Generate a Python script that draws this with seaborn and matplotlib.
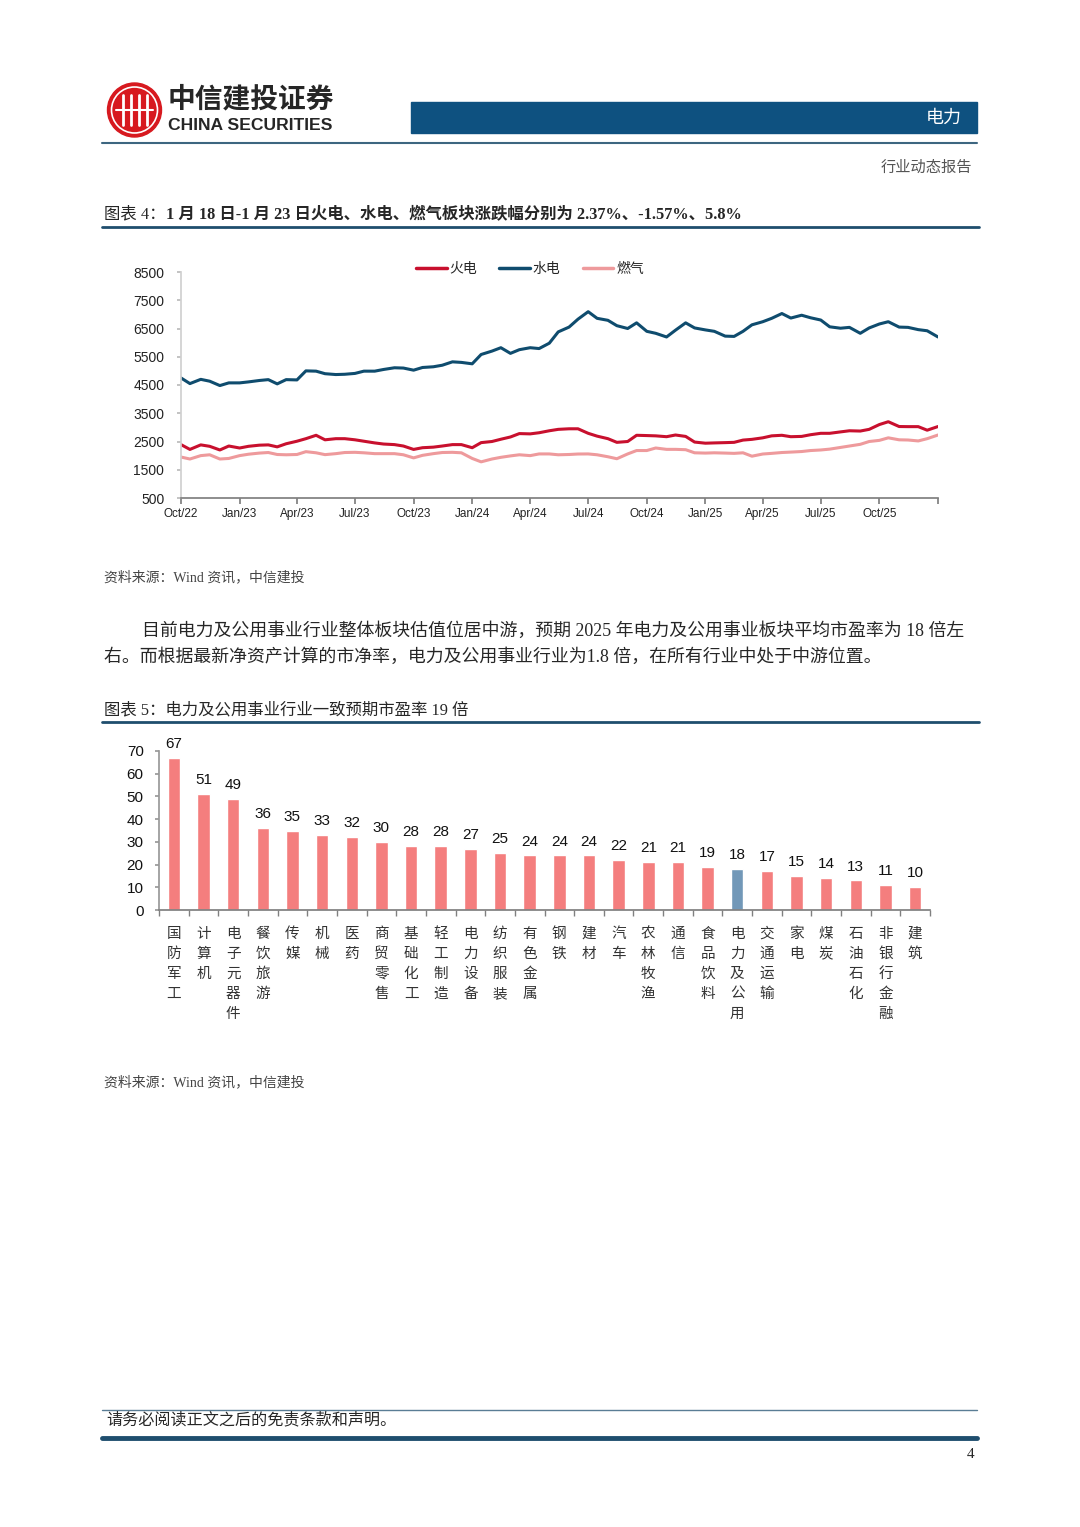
import numpy as np
import pandas as pd
import matplotlib
matplotlib.use("Agg")
import matplotlib.pyplot as plt
import matplotlib.patches as mpatches
import seaborn as sns

sns.set_theme(style="ticks")
SERIF = ["Liberation Serif", "Noto Sans CJK SC"]
SANS = ["Liberation Sans", "Noto Sans CJK SC"]
plt.rcParams["font.family"] = SANS
plt.rcParams["axes.unicode_minus"] = False

# 图表4: 火电 / 水电 / 燃气 板块指数
dates = pd.date_range("2022-10-01", "2026-01-01", freq="SMS")
thermal = [2390, 2220, 2380, 2330, 2200, 2340, 2270, 2330, 2370, 2380,
           2310, 2420, 2510, 2600, 2720, 2560, 2600, 2600, 2560, 2510,
           2450, 2410, 2390, 2340, 2220, 2280, 2300, 2340, 2390, 2390,
           2280, 2460, 2500, 2580, 2660, 2780, 2770, 2810, 2880, 2930,
           2950, 2950, 2790, 2690, 2600, 2470, 2500, 2720, 2710, 2700,
           2670, 2730, 2680, 2480, 2440, 2450, 2460, 2470, 2550, 2576,
           2630, 2700, 2720, 2670, 2680, 2740, 2790, 2790, 2840, 2880,
           2870, 2930, 3100, 3200, 3030, 3026, 3026, 2900, 3030]
hydro = [4750, 4550, 4700, 4635, 4480, 4575, 4575, 4610, 4660, 4690,
         4540, 4690, 4680, 5000, 4990, 4900, 4870, 4880, 4910, 4990,
         4990, 5050, 5110, 5100, 5025, 5120, 5145, 5200, 5320, 5300,
         5250, 5580, 5700, 5820, 5620, 5750, 5820, 5790, 5980, 6380,
         6550, 6830, 7095, 6860, 6790, 6600, 6500, 6700, 6400, 6330,
         6200, 6440, 6700, 6520, 6450, 6400, 6230, 6220, 6400, 6630,
         6740, 6860, 7030, 6870, 6970, 6880, 6800, 6560, 6510, 6540,
         6330, 6520, 6660, 6740, 6550, 6540, 6460, 6420, 6200]
gas = [1950, 1880, 2000, 2030, 1880, 1900, 2000, 2050, 2090, 2110,
       2040, 2030, 2040, 2140, 2100, 2035, 2070, 2110, 2117, 2100,
       2070, 2070, 2070, 2030, 1920, 2010, 2070, 2110, 2117, 2100,
       1900, 1780, 1880, 1940, 1990, 2030, 2000, 2060, 2060, 2030,
       2040, 2057, 2060, 2030, 1960, 1890, 2060, 2180, 2180, 2270,
       2222, 2222, 2210, 2100, 2090, 2100, 2090, 2080, 2100, 1980,
       2057, 2080, 2110, 2125, 2145, 2180, 2200, 2230, 2290, 2340,
       2400, 2500, 2540, 2630, 2560, 2553, 2520, 2600, 2730]
quarter_ticks = pd.date_range("2022-10-01", "2026-01-01", freq="QS-OCT")
quarter_labels = ["Oct/22", "Jan/23", "Apr/23", "Jul/23", "Oct/23", "Jan/24", "Apr/24",
                  "Jul/24", "Oct/24", "Jan/25", "Apr/25", "Jul/25", "Oct/25", ""]

# 图表5: 各行业一致预期市盈率
industries = ["国防军工", "计算机", "电子元器件", "餐饮旅游", "传媒", "机械", "医药",
              "商贸零售", "基础化工", "轻工制造", "电力设备", "纺织服装", "有色金属",
              "钢铁", "建材", "汽车", "农林牧渔", "通信", "食品饮料", "电力及公用",
              "交通运输", "家电", "煤炭", "石油石化", "非银行金融", "建筑"]
pe_vals = [67, 51, 49, 36, 35, 33, 32, 30, 28, 28, 27, 25, 24,
           24, 24, 22, 21, 21, 19, 18, 17, 15, 14, 13, 11, 10]
highlight = "电力及公用"

W, H = 1080, 1527


def rect(left, top, right, bottom):
    return [left / W, 1 - bottom / H, (right - left) / W, (bottom - top) / H]


fig = plt.figure(figsize=(W / 100, H / 100), dpi=100)
bg = fig.add_axes([0, 0, 1, 1])
bg.set_xlim(0, W)
bg.set_ylim(H, 0)
bg.axis("off")

# header
bg.add_patch(mpatches.Circle((134.5, 110), 27, color="#d7191f"))
bg.add_patch(mpatches.Circle((134.5, 110), 23, fill=False, ec="white", lw=1.2))
for dx in (-12, -4, 4, 12):
    bg.plot([134.5 + dx] * 2, [95, 125], color="white", lw=2)
bg.plot([116, 153], [110, 110], color="white", lw=1.5)
bg.text(168, 100, "中信建投证券", fontsize=20, fontweight="bold", family=SANS, va="center")
bg.text(168, 125, "CHINA SECURITIES", fontsize=12.6, fontweight="bold",
        family=["Liberation Sans"], va="center")
bg.add_patch(mpatches.Rectangle((411, 102), 566, 31, color="#0e5180"))
bg.text(962, 118, "电力", fontsize=13, color="white", ha="right", va="center")
bg.plot([102, 977], [143, 143], color="#3d6680", lw=1.5)
bg.text(972, 168, "行业动态报告", fontsize=11, color="#555555", ha="right", va="center",
        family=SERIF)

# title 4
renderer = fig.canvas.get_renderer()
t = bg.text(104, 214, "图表 4：", fontsize=11.8, va="center", family=SERIF)
w = t.get_window_extent(renderer).width
bg.text(104 + w, 214, "1 月 18 日-1 月 23 日火电、水电、燃气板块涨跌幅分别为 2.37%、-1.57%、5.8%",
        fontsize=11.8, fontweight="bold", va="center", family=SERIF)
bg.plot([102, 979], [227, 227], color="#1f4e6e", lw=2)

# line chart
ax1 = fig.add_axes(rect(181, 272, 938, 498))
ax1.patch.set_alpha(0)
line_df = pd.DataFrame({"date": dates, "火电": thermal, "水电": hydro, "燃气": gas})
line_long = line_df.melt(id_vars="date", var_name="板块", value_name="指数")
sns.lineplot(data=line_long, x="date", y="指数", hue="板块",
             palette={"火电": "#c8102e", "水电": "#0f4c6e", "燃气": "#ee9a9c"},
             linewidth=2.2, ax=ax1)
ax1.set_xlim(dates[0], dates[-1])
ax1.set_ylim(500, 8500)
ax1.set_yticks(range(500, 8501, 1000))
ax1.set_xticks(quarter_ticks)
ax1.set_xticklabels(quarter_labels)
ax1.set_xlabel("")
ax1.set_ylabel("")
for s in ("top", "right"):
    ax1.spines[s].set_visible(False)
ax1.spines["left"].set_color("#d0d0d0")
ax1.spines["bottom"].set_color("#808080")
ax1.tick_params(axis="y", length=3, color="#bbbbbb", pad=9, labelsize=10, labelcolor="#222222")
ax1.tick_params(axis="x", length=4, color="#808080", pad=3, labelsize=8.5, labelcolor="#222222")
sns.move_legend(ax1, "center", bbox_to_anchor=(0.461, 1.013), ncol=3, frameon=False,
                title=None, fontsize=10, handlelength=2.2, columnspacing=1.6,
                handletextpad=0.2)
for ln in ax1.get_legend().get_lines():
    ln.set_linewidth(2.5)

bg.text(104, 577, "资料来源：Wind 资讯，中信建投", fontsize=10, color="#444444",
        va="center", family=SERIF)

# body text
bg.text(142, 631, "目前电力及公用事业行业整体板块估值位居中游，预期 2025 年电力及公用事业板块平均市盈率为 18 倍左",
        fontsize=12.9, va="center", family=SERIF)
bg.text(104, 657, "右。而根据最新净资产计算的市净率，电力及公用事业行业为1.8 倍，在所有行业中处于中游位置。",
        fontsize=12.9, va="center", family=SERIF)

# title 5
bg.text(104, 710, "图表 5：电力及公用事业行业一致预期市盈率 19 倍", fontsize=11.8,
        va="center", family=SERIF)
bg.plot([102, 979], [722, 722], color="#1f4e6e", lw=2)

# bar chart
ax2 = fig.add_axes(rect(159, 751, 930, 910))
ax2.patch.set_alpha(0)
bar_colors = {c: ("#7298b8" if c == highlight else "#f47e7e") for c in industries}
sns.barplot(x=industries, y=pe_vals, hue=industries, palette=bar_colors, legend=False,
            width=0.42, saturation=1, ax=ax2)
for i, v in enumerate(pe_vals):
    ax2.annotate(f"{v}", (i, v), xytext=(0, 5), textcoords="offset points",
                 ha="center", va="bottom", fontsize=11, color="#111111")
ax2.set_xlim(-0.5, len(industries) - 0.5)
ax2.set_ylim(0, 70)
ax2.set_yticks(range(0, 71, 10))
ax2.set_xticks(range(len(industries)))
ax2.set_xticklabels(["\n".join(c) for c in industries], fontsize=10.5, linespacing=1.55,
                    va="top", color="#333333")
ax2.set_xticks(np.arange(-0.5, len(industries), 1), minor=True)
ax2.tick_params(axis="x", which="major", length=0, pad=12)
ax2.tick_params(axis="x", which="minor", length=4, color="#808080")
ax2.tick_params(axis="y", length=3, color="#999999", pad=8, labelsize=11, labelcolor="#111111")
ax2.set_xlabel("")
ax2.set_ylabel("")
for s in ("top", "right"):
    ax2.spines[s].set_visible(False)
ax2.spines["left"].set_color("#999999")
ax2.spines["bottom"].set_color("#808080")

bg.text(104, 1082, "资料来源：Wind 资讯，中信建投", fontsize=10, color="#444444",
        va="center", family=SERIF)

# footer
bg.plot([102, 977], [1410, 1410], color="#5a7d95", lw=1)
bg.text(106, 1420, "请务必阅读正文之后的免责条款和声明。", fontsize=11.6, va="center", family=SERIF)
bg.plot([102, 977], [1438, 1438], color="#1f4e6e", lw=3.5)
bg.text(974, 1455, "4", fontsize=11, ha="right", va="center", family=SERIF)

fig.savefig("out.png", dpi=100)
